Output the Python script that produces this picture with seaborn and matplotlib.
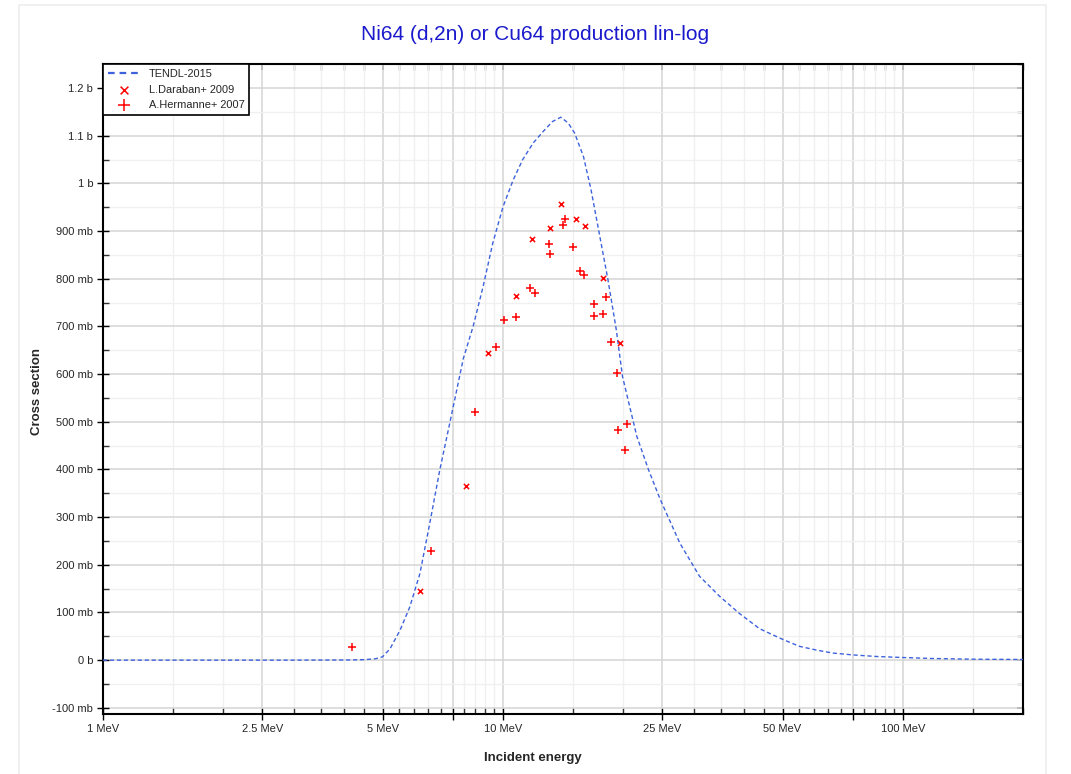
import numpy as np
import pandas as pd
import matplotlib
matplotlib.use("Agg")
import matplotlib.pyplot as plt
import matplotlib.ticker as mticker
from matplotlib.patches import Rectangle
import seaborn as sns

# TENDL-2015 evaluated curve (MeV, mb)
tendl_energy = [1.0, 2.0, 3.0, 4.0, 4.5, 4.8, 5.0, 5.22, 5.53, 5.85, 6.2, 6.56, 6.95,
                7.36, 7.96, 8.42, 8.92, 9.43, 10.0, 10.6, 11.2, 11.9, 12.6, 13.3,
                13.95, 14.55, 15.1, 15.9, 16.6, 17.4, 18.3, 19.2, 19.9, 21.6, 23.1,
                24.7, 27.7, 31.0, 34.8, 39.0, 43.8, 49.9, 55.1, 60.9, 66.6, 74.9,
                85.8, 99.4, 118.0, 150.0, 200.0]
tendl_xs = [0.0, 0.0, 0.0, 0.3, 1.0, 3.0, 7.0, 24, 63, 112, 182, 287, 399,
            497, 633, 700, 784, 875, 951, 1007, 1050, 1085, 1109, 1130,
            1139, 1127, 1106, 1056, 987, 896, 798, 693, 595, 470, 400,
            338, 245, 176, 134, 98, 66, 44, 29, 21, 15, 11,
            7.7, 5.6, 3.5, 2.0, 1.4]

# L.Daraban+ 2009
daraban_energy = [6.20, 8.09, 9.19, 10.78, 11.84, 13.1, 14.0, 15.2, 16.0, 17.8, 19.6]
daraban_xs = [145, 366, 645, 763, 884, 906, 957, 925, 910, 801, 665]

# A.Hermanne+ 2007
hermanne_energy = [4.2, 6.59, 8.50, 9.60, 10.05, 10.78, 11.65, 12.0, 13.0, 13.1, 14.1,
                   14.3, 15.0, 15.6, 15.97, 16.9, 16.9, 17.8, 18.1, 18.6, 19.3, 19.4,
                   20.2, 20.4]
hermanne_xs = [27, 229, 521, 658, 714, 720, 781, 771, 872, 852, 912,
               926, 866, 817, 808, 747, 721, 727, 761, 667, 602, 482,
               441, 496]

x_major = [1, 2.5, 5, 7.5, 10, 25, 50, 75, 100]
x_labels = ["1 MeV", "2.5 MeV", "5 MeV", "", "10 MeV", "25 MeV", "50 MeV", "", "100 MeV"]
x_minor = [1.5, 2, 3, 3.5, 4, 4.5, 5.5, 6, 6.5, 7, 8, 8.5, 9, 9.5, 15, 20,
           30, 35, 40, 45, 55, 60, 65, 70, 80, 85, 90, 95, 150, 200]

sns.set_theme(style="white")
plt.rcParams['font.family'] = ['Liberation Sans', 'DejaVu Sans']

fig = plt.figure(figsize=(10.71, 7.74), dpi=100)
fig.patches.append(Rectangle((19 / 1071, -0.1), (1046 - 19) / 1071, 1.1 - 5 / 774,
                             transform=fig.transFigure, fill=False,
                             edgecolor='#eeeeee', linewidth=1.2, zorder=0))
ax = fig.add_axes([0.0962, 0.0775, 0.8593, 0.8394])

df_tendl = pd.DataFrame({'E': tendl_energy, 'xs': tendl_xs})
df_dar = pd.DataFrame({'E': daraban_energy, 'xs': daraban_xs})
df_her = pd.DataFrame({'E': hermanne_energy, 'xs': hermanne_xs})

sns.lineplot(data=df_tendl, x='E', y='xs', ax=ax, color='#3d62dc', linewidth=1,
             linestyle=(0, (3, 2)), sort=False, estimator=None, label='TENDL-2015',
             zorder=3)
sns.scatterplot(data=df_dar, x='E', y='xs', ax=ax, marker='x', color='red', s=14,
                linewidth=1.1, label='L.Daraban+ 2009', zorder=4)
sns.scatterplot(data=df_her, x='E', y='xs', ax=ax, marker='+', color='red', s=36,
                linewidth=1.1, label='A.Hermanne+ 2007', zorder=4)

ax.set_xscale('log')
ax.set_xlim(1, 200)
ax.set_ylim(-113, 1250)

ax.xaxis.set_major_locator(mticker.FixedLocator(x_major))
ax.xaxis.set_major_formatter(mticker.FixedFormatter(x_labels))
ax.xaxis.set_minor_locator(mticker.FixedLocator(x_minor))
ax.xaxis.set_minor_formatter(mticker.NullFormatter())


def fmt_y(v, pos):
    v = int(round(v))
    if v == 0:
        return "0 b"
    if v >= 1000:
        return "{:g} b".format(v / 1000)
    return "{} mb".format(v)


ax.yaxis.set_major_locator(mticker.MultipleLocator(100))
ax.yaxis.set_minor_locator(mticker.MultipleLocator(50))
ax.yaxis.set_major_formatter(mticker.FuncFormatter(fmt_y))

ax.grid(which='major', color='#d4d4d4', linewidth=1.1, zorder=0)
ax.grid(which='minor', color='#f0f0f0', linewidth=1.0, zorder=0)
ax.set_axisbelow(True)

ax.tick_params(which='major', direction='inout', length=8, width=1, color='black',
               labelsize=8, pad=3, left=True, bottom=True)
ax.tick_params(which='minor', direction='in', length=4, width=1, color='#333333',
               left=True, bottom=True)

top = ax.secondary_xaxis('top')
top.set_xscale('log')
top.xaxis.set_major_locator(mticker.FixedLocator(x_major))
top.xaxis.set_minor_locator(mticker.FixedLocator(x_minor))
top.tick_params(which='both', direction='in', length=4, labeltop=False, color='#555555')
top.xaxis.set_major_formatter(mticker.NullFormatter())
top.xaxis.set_minor_formatter(mticker.NullFormatter())
top.spines['top'].set_visible(False)

right = ax.secondary_yaxis('right')
right.yaxis.set_major_locator(mticker.MultipleLocator(100))
right.yaxis.set_minor_locator(mticker.MultipleLocator(50))
right.tick_params(which='both', direction='in', length=4, labelright=False, color='#555555')
right.yaxis.set_major_formatter(mticker.NullFormatter())
right.spines['right'].set_visible(False)

for s in ax.spines.values():
    s.set_color('black')
    s.set_linewidth(1.5)

ax.set_xlabel("")
ax.set_ylabel("")

leg = ax.legend(loc='upper left', borderaxespad=0, fancybox=False, edgecolor='black',
                framealpha=1, fontsize=7.9, handlelength=3.0, labelspacing=0.5,
                borderpad=0.45, handletextpad=0.7, markerscale=1.5)
leg.get_frame().set_linewidth(1.2)
for ln in leg.get_lines():
    ln.set_linewidth(1.6)
    ln.set_linestyle((0, (3, 2.2)))

fig.text(0.5, 1 - 35 / 774, "Ni64 (d,2n) or Cu64 production lin-log", ha='center',
         va='center', color='#1a1acc', fontsize=15)
fig.text(533 / 1071, 1 - 758 / 774, "Incident energy", ha='center', va='center',
         fontsize=9.5, fontweight='bold')
fig.text(37 / 1071, 1 - 391 / 774, "Cross section", ha='center', va='center',
         rotation=90, fontsize=9.5, fontweight='bold')

fig.savefig("out.png", dpi=100)
